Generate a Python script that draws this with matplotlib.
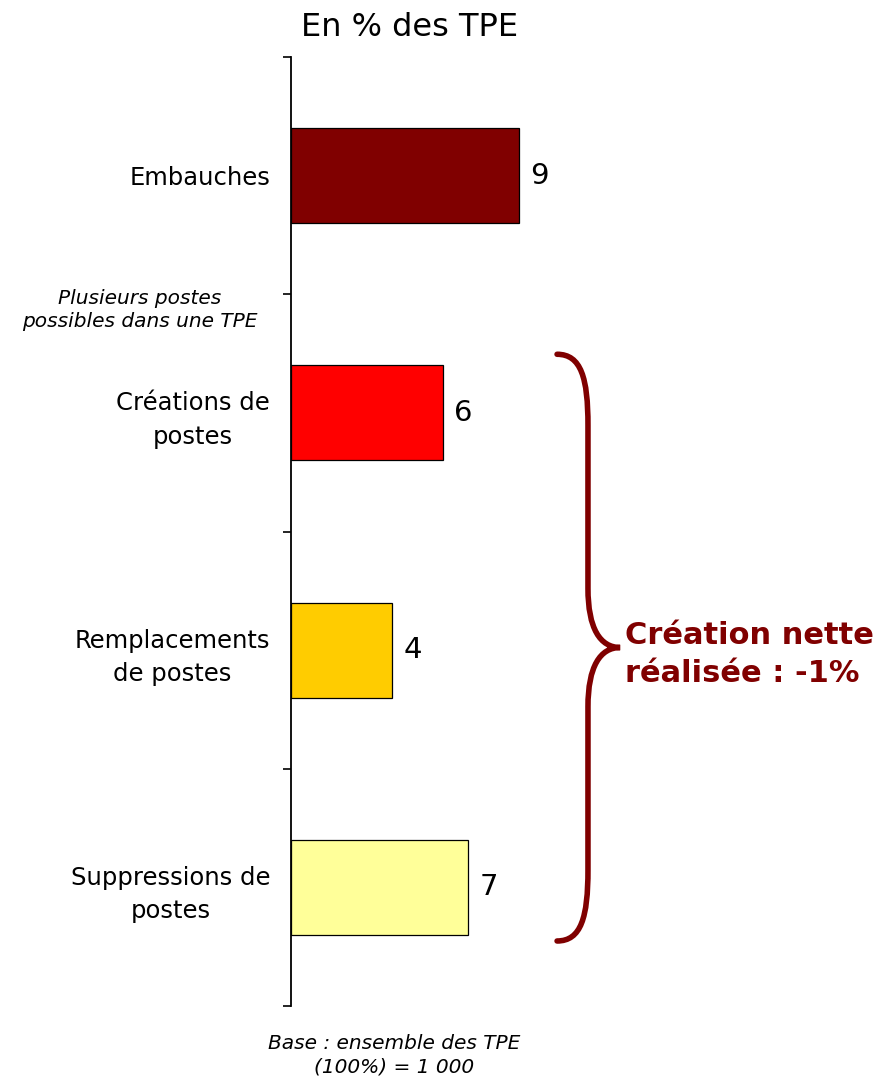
import matplotlib

matplotlib.use('AGG')
import matplotlib.pyplot as plt
from matplotlib.path import Path
from matplotlib.patches import PathPatch

# data
categories = ['Embauches', 'Créations de\npostes', 'Remplacements\nde postes', 'Suppressions de\npostes']
values = [9, 6, 4, 7]
colors = ['#800000', '#FF0000', '#FFCC00', '#FFFF99']
title = 'En % des TPE'
note = 'Plusieurs postes\npossibles dans une TPE'
footer = 'Base : ensemble des TPE\n(100%) = 1 000'
brace_text = 'Création nette\nréalisée : -1%'
dark_red = '#800000'

plt.rcParams['font.family'] = 'DejaVu Sans'

fig = plt.figure(figsize=(8.89, 10.82), dpi=100)
ax = fig.add_axes([291 / 889, 1 - 1006 / 1082, 1 - 291 / 889, (1006 - 57) / 1082])

ypos = list(range(len(categories)))
ax.barh(ypos, values, height=0.4, color=colors, edgecolor='black', linewidth=0.9)

for y, v in zip(ypos, values):
    ax.annotate(str(v), (v, y), xytext=(8, 0), textcoords='offset points',
                ha='left', va='center', fontsize=21)

ax.set_xlim(0, 23.6)
ax.set_ylim(len(categories) - 0.5, -0.5)

# ticks between categories, labels at the centres
ax.set_yticks([i - 0.5 for i in range(len(categories) + 1)])
ax.set_yticklabels([])
ax.set_yticks(ypos, minor=True)
ax.set_yticklabels(categories, minor=True, fontsize=17.5, ha='right', multialignment='center')
for lab in ax.get_yticklabels(minor=True):
    lab.set_linespacing(1.5)
ax.tick_params(axis='y', which='major', length=6, width=1.2, direction='out')
ax.tick_params(axis='y', which='minor', length=0, pad=15)
ax.set_xticks([])
for s in ['top', 'right', 'bottom']:
    ax.spines[s].set_visible(False)
ax.spines['left'].set_linewidth(1.3)

# brace grouping the last three bars
xa, xv, xt = 10.5, 11.72, 12.99
y0, ym, y1 = 0.753, 1.989, 3.226
verts = [(xa, y0), (11.45, y0), (xv, y0 + 0.1), (xv, y0 + 0.3),
         (xv, ym - 0.25),
         (xv, ym - 0.08), (12.2, ym), (xt, ym),
         (12.2, ym), (xv, ym + 0.08), (xv, ym + 0.25),
         (xv, y1 - 0.3),
         (xv, y1 - 0.1), (11.45, y1), (xa, y1)]
codes = [Path.MOVETO, Path.CURVE4, Path.CURVE4, Path.CURVE4,
         Path.LINETO,
         Path.CURVE4, Path.CURVE4, Path.CURVE4,
         Path.CURVE4, Path.CURVE4, Path.CURVE4,
         Path.LINETO,
         Path.CURVE4, Path.CURVE4, Path.CURVE4]
ax.add_patch(PathPatch(Path(verts, codes), facecolor='none', edgecolor=dark_red,
                       linewidth=4, capstyle='round', clip_on=False))
ax.text(13.2, 2.02, brace_text, color=dark_red, fontsize=22, fontweight='bold',
        ha='left', va='center', linespacing=1.4, clip_on=False)

ax.text(-5.96, 0.567, note, fontsize=14.5, style='italic', ha='center', va='center',
        linespacing=1.3, clip_on=False)

fig.text(410 / 889, 1 - 27 / 1082, title, fontsize=23, ha='center', va='center')
fig.text(394 / 889, 1 - 1055 / 1082, footer, fontsize=14.5, style='italic',
         ha='center', va='center', linespacing=1.3)

fig.savefig('out.png', dpi=100)
